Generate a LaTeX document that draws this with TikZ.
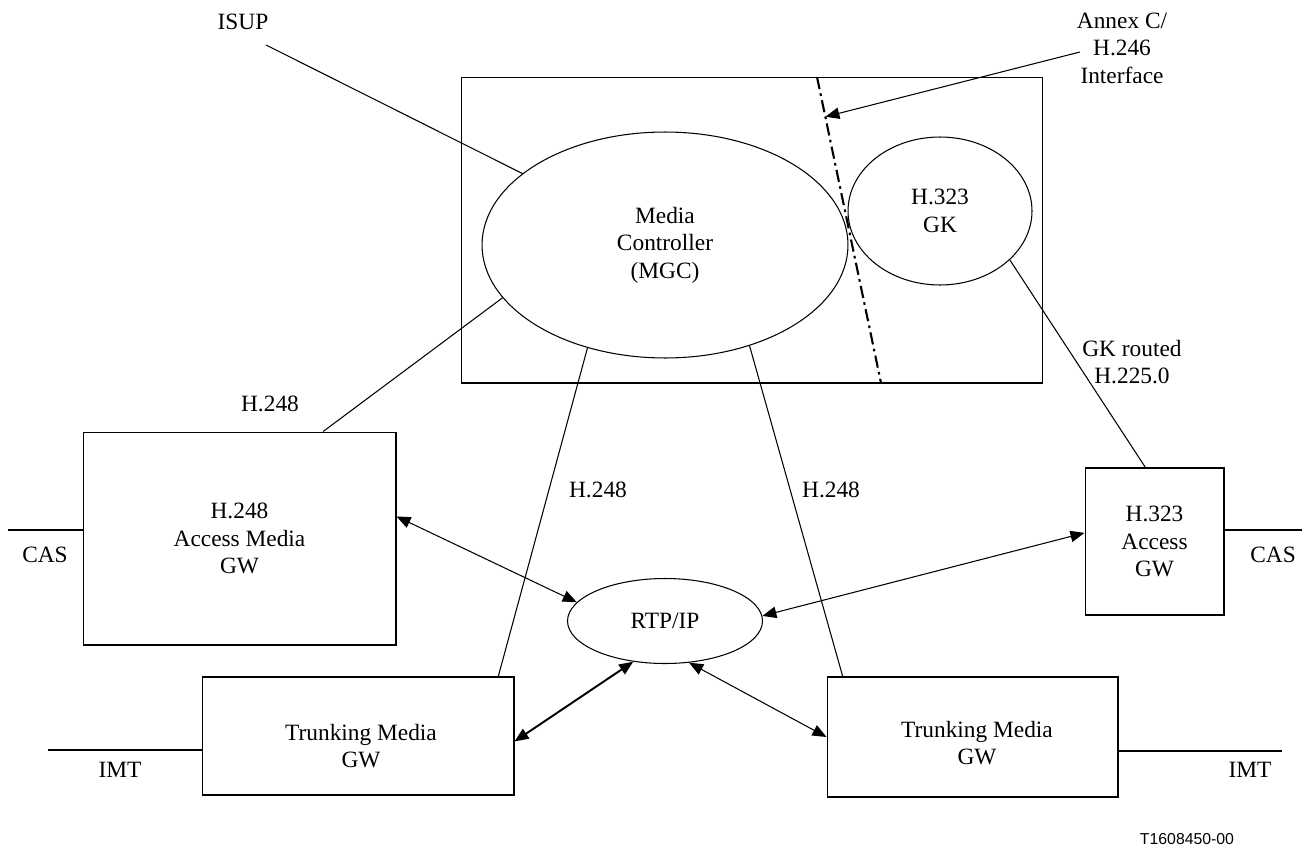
\documentclass[tikz,border=0pt]{standalone}
\usepackage{fontspec}
\setmainfont{Liberation Serif}
\setsansfont{Liberation Sans}
\usepackage{tikz}
\usetikzlibrary{arrows.meta,shapes.geometric,positioning,calc}
\definecolor{lineblack}{RGB}{0,0,0}
\tikzstyle{unit} = [rectangle, draw=lineblack, line width=0.6pt, inner sep=0pt, align=center]
\tikzstyle{blob} = [ellipse, draw=lineblack, line width=0.6pt, inner sep=0pt, align=center]
\tikzstyle{link} = [line width=0.6pt, color=lineblack]
\tikzstyle{flow} = [line width=0.6pt, {Triangle[length=8pt,width=6.5pt]}-{Triangle[length=8pt,width=6.5pt]}]
\tikzstyle{lbl} = [align=center, inner sep=0pt]

\begin{document}
\begin{tikzpicture}[x=0.02cm, y=-0.02cm, font=\fontsize{13.3}{15.6}\selectfont]
    \useasboundingbox (0,0) rectangle (1310,848);

    % Controller box
    \node[unit, minimum width=11.64cm, minimum height=6.12cm] (ctrl) at (752,230) {};
    \node[blob, minimum width=7.32cm, minimum height=4.52cm] (mgc) at (665,245) {Media\\Controller\\(MGC)};
    \node[blob, minimum width=3.68cm, minimum height=2.96cm] (gk) at (940,211) {H.323\\GK};

    % Interface line
    \coordinate (ifTop) at (817,77);
    \coordinate (ifBot) at (881,383);
    \draw[line width=1.2pt, dash pattern=on 7pt off 2.5pt on 1.5pt off 2.5pt] (ifTop) -- (ifBot);
    \coordinate (annexStart) at (1080,52);
    \draw[link, -{Triangle[length=8pt,width=6.5pt]}] (annexStart) -- ($(ifTop)!0.13!(ifBot)$);
    \node[lbl] (annex) at (1122,48) {Annex C/\\H.246\\Interface};

    % ISUP
    \node[lbl] (isup) at (243,22) {ISUP};
    \coordinate (isupEnd) at (266,45);
    \draw[link] (isupEnd) -- (mgc);

    % Gateways
    \node[unit, minimum width=6.26cm, minimum height=4.26cm] (accgw) at (239.5,538.5) {H.248\\Access Media\\GW};
    \node[unit, minimum width=2.78cm, minimum height=2.94cm] (h323gw) at (1154.5,541.5) {H.323\\Access\\GW};
    \node[unit, minimum width=6.24cm, minimum height=2.36cm] (trunkL) at (358,736) {};
    \node[lbl] (trunkLtxt) at (361,746) {Trunking Media\\GW};
    \node[unit, minimum width=5.82cm, minimum height=2.40cm] (trunkR) at (972.5,737) {};
    \node[lbl] (trunkRtxt) at (977,743) {Trunking Media\\GW};
    \node[blob, minimum width=3.9cm, minimum height=1.7cm] (rtp) at (665,621) {RTP/IP};

    % Control links
    \draw[link] (accgw.52.9) -- (mgc.198.5);
    \draw[link] (mgc.233.8) -- (trunkL.23.5);
    \draw[link] (mgc.310.5) -- (trunkR.155.3);
    \draw[link] (gk.-35.4) -- (h323gw.97.4);
    \node[lbl] at (270,404) {H.248};
    \node[lbl] at (598,490) {H.248};
    \node[lbl] at (831,490) {H.248};
    \node[lbl] at (1132,362) {GK routed\\H.225.0};

    % Media flows
    \draw[flow] (accgw.8.5) -- (rtp.168.3);
    \draw[flow] (h323gw.173.8) -- (rtp.3.5);
    \draw[flow, line width=1.1pt] (rtp.232.5) -- (trunkL.-2.6);
    \draw[flow] (rtp.-60.4) -- (trunkR.west);

    % Outside lines
    \coordinate (casL) at (8,530);
    \coordinate (casR) at (1302,530);
    \coordinate (imtL) at (48,750);
    \coordinate (imtR) at (1282,751);
    \draw[link] (casL) -- (casL -| accgw.west);
    \draw[link] (h323gw.east |- casR) -- (casR);
    \draw[link] (imtL) -- (imtL -| trunkL.west);
    \draw[link] (trunkR.east |- imtR) -- (imtR);
    \node[lbl] at (45,555) {CAS};
    \node[lbl] at (1273,555) {CAS};
    \node[lbl] at (120,770) {IMT};
    \node[lbl] at (1250,770) {IMT};

    % Figure number
    \node[lbl, font=\sffamily\fontsize{9}{11}\selectfont] (fignum) at (1187,839) {T1608450-00};
\end{tikzpicture}
\end{document}
